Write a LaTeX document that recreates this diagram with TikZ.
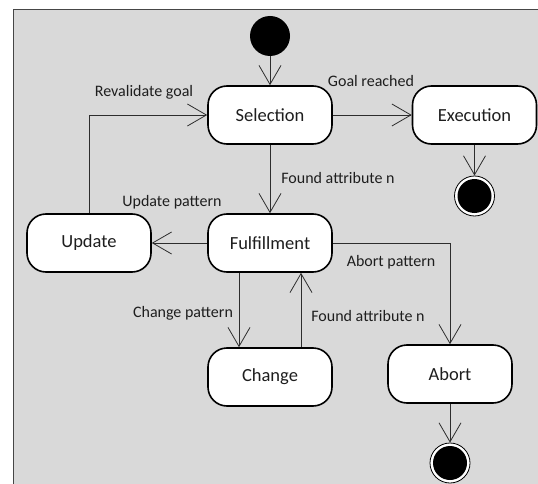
\documentclass[tikz,border=0pt]{standalone}
\usepackage{fontspec}
\setmainfont{Carlito}
\usetikzlibrary{arrows.meta,calc}
\definecolor{bggray}{RGB}{217,217,217}
\definecolor{framegray}{RGB}{70,70,70}
\definecolor{linegray}{RGB}{45,45,45}
\definecolor{txt}{RGB}{30,30,30}
\begin{document}
\begin{tikzpicture}[x=1pt,y=-1pt,
  state/.style={draw=black, line width=1.6pt, fill=white, rounded corners=19pt,
    minimum width=124pt, minimum height=58pt, inner sep=0pt,
    font=\fontsize{18.5}{20}\selectfont, text=txt},
  initst/.style={circle, fill=black, minimum size=40pt, inner sep=0pt},
  finout/.style={circle, draw=black, line width=0.8pt, fill=white, minimum size=40pt, inner sep=0pt},
  finin/.style={circle, fill=black, minimum size=34pt, inner sep=0pt},
  conn/.style={draw=linegray, line width=0.8pt,
    -{Straight Barb[length=19pt,width=22pt,line width=0.8pt]}},
  lbl/.style={font=\fontsize{16}{18}\selectfont, text=txt, inner sep=0pt}]
\useasboundingbox (0,0) rectangle (538,484);
\clip (0,0) rectangle (538,484);
\fill[white] (0,0) rectangle (538,484);
\draw[fill=bggray, draw=framegray, line width=1pt] (13,10) rectangle (550,496);

% states
\node[initst] (init) at (270,36) {};
\node[state] (sel) at (270,115) {Selection};
\node[state] (exe) at (474.5,115) {Execution};
\node[state] (upd) at (89,243) {Update};
\node[state] (ful) at (270,243) {Fulfillment};
\node[state] (chg) at (270,377) {Change};
\node[state] (abt) at (450,374) {Abort};
\node[finout] (fin1) at (474.5,196) {};
\node[finin] (fin1in) at (fin1) {};
\node[finout] (fin2) at (450,463) {};
\node[finin] (fin2in) at (fin2) {};

\coordinate (cl) at (239,0);
\coordinate (cr) at (301,0);

% connectors
\draw[conn] (init) -- (sel);
\draw[conn] (sel) -- (exe);
\draw[conn] (sel) -- (ful);
\draw[conn] (ful) -- (upd);
\draw[conn] (upd.north) |- (sel.west);
\draw[conn] (ful.east) -| (abt.north);
\draw[conn] (ful.south -| cl) -- (chg.north -| cl);
\draw[conn] (chg.north -| cr) -- (ful.south -| cr);
\draw[conn] (exe) -- (fin1);
\draw[conn] (abt) -- (fin2);

% labels
\node[lbl] (l1) at (144,92) {Revalidate goal};
\node[lbl] (l2) at (371,81) {Goal reached};
\node[lbl] (l3) at (338,178) {Found attribute n};
\node[lbl] (l4) at (172,202) {Update pattern};
\node[lbl] (l5) at (391,262) {Abort pattern};
\node[lbl] (l6) at (183,313) {Change pattern};
\node[lbl] (l7) at (368,316) {Found attribute n};
\end{tikzpicture}
\end{document}
